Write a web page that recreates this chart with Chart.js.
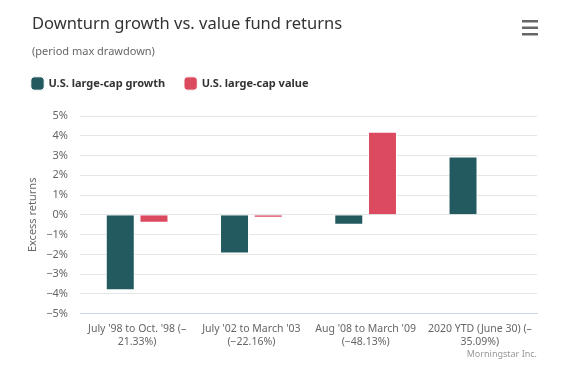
<!DOCTYPE html>
<html>
<head>
<meta charset="utf-8">
<script src="https://cdn.jsdelivr.net/npm/chart.js@4"></script>
<style>
  html, body { margin: 0; padding: 0; background: #fff; }
  #wrap { width: 586px; height: 390px; position: relative; }
</style>
</head>
<body>
<div id="wrap"><canvas id="myChart"></canvas></div>
<script>
// chart data
const periods = [
  ["July '98 to Oct. '98 (\u2013", "21.33%)"],
  ["July '02 to March '03", "(\u221222.16%)"],
  ["Aug '08 to March '09", "(\u221248.13%)"],
  ["2020 YTD (June 30) (\u2013", "35.09%)"]
];
const growthReturns = [-3.82, -1.95, -0.5, 2.95];
const valueReturns = [-0.4, -0.15, 4.2, null];
const yTicks = [-5, -4, -3, -2, -1, 0, 1, 2, 3, 4, 5];
// chart data

const FONT = "'Noto Sans', 'DejaVu Sans', sans-serif";

// menu icon + credits, like the original page
const extras = {
  id: 'extras',
  beforeInit(chart) {
    // more room under the legend
    const fit = chart.legend.fit;
    chart.legend.fit = function() {
      fit.call(this);
      this.height += 17;
    };
  },
  afterLayout(chart) {
    // legend items start flush with the title
    chart.legend.left -= 20;
    chart.legend.right -= 20;
  },
  afterDraw(chart) {
    const c = chart.ctx;
    c.save();
    c.fillStyle = '#666';
    [20, 26.5, 33].forEach(y => c.fillRect(522, y, 16, 2.5));
    c.fillStyle = '#999';
    c.font = '9px ' + FONT;
    c.textAlign = 'right';
    c.textBaseline = 'alphabetic';
    c.fillText('Morningstar Inc.', 537, 357);
    c.restore();
  }
};

const ctx = document.getElementById('myChart').getContext('2d');
const myChart = new Chart(ctx, {
  type: 'bar',
  data: {
    labels: periods,
    datasets: [{
      label: 'U.S. large-cap growth',
      data: growthReturns,
      backgroundColor: '#225a60',
      borderColor: '#ffffff',
      borderWidth: 1
    }, {
      label: 'U.S. large-cap value',
      data: valueReturns,
      backgroundColor: '#dc4a60',
      borderColor: '#ffffff',
      borderWidth: 1
    }]
  },
  options: {
    responsive: true,
    maintainAspectRatio: false,
    animation: false,
    datasets: {
      bar: { categoryPercentage: 0.59, barPercentage: 0.86 }
    },
    layout: {
      padding: { left: 32, right: 49, top: 14, bottom: 41 }
    },
    plugins: {
      title: {
        display: true,
        align: 'start',
        text: 'Downturn growth vs. value fund returns',
        color: '#333',
        font: { family: FONT, size: 16.5, weight: 'normal' },
        padding: { top: 0, bottom: 11 }
      },
      subtitle: {
        display: true,
        align: 'start',
        text: '(period max drawdown)',
        color: '#666',
        font: { family: FONT, size: 11 },
        padding: { top: 0, bottom: 0 }
      },
      legend: {
        align: 'start',
        labels: {
          color: '#333',
          font: { family: FONT, size: 11, weight: 'bold' },
          usePointStyle: true,
          pointStyle: 'rectRounded',
          boxWidth: 11,
          boxHeight: 11,
          padding: 20
        }
      },
      tooltip: { enabled: false }
    },
    scales: {
      x: {
        grid: { display: false },
        border: { color: '#ccd6eb' },
        ticks: {
          color: '#666',
          padding: 0,
          font: { family: FONT, size: 10.5, lineHeight: 1.3 },
          maxRotation: 0,
          autoSkip: false
        }
      },
      y: {
        min: yTicks[0],
        max: yTicks[yTicks.length - 1],
        afterBuildTicks(axis) {
          axis.ticks = yTicks.map(v => ({ value: v }));
        },
        afterFit(axis) {
          axis.width = 48;
        },
        grid: { color: '#e6e6e6', drawTicks: false },
        border: { display: false },
        ticks: {
          color: '#666',
          padding: 12,
          font: { family: FONT, size: 11 },
          callback: v => (v < 0 ? '\u2212' + Math.abs(v) : v) + '%'
        },
        title: {
          display: true,
          text: 'Excess returns',
          color: '#666',
          font: { family: FONT, size: 11 },
          padding: { top: -6, bottom: 0 }
        }
      }
    }
  },
  plugins: [extras]
});
</script>
</body>
</html>
